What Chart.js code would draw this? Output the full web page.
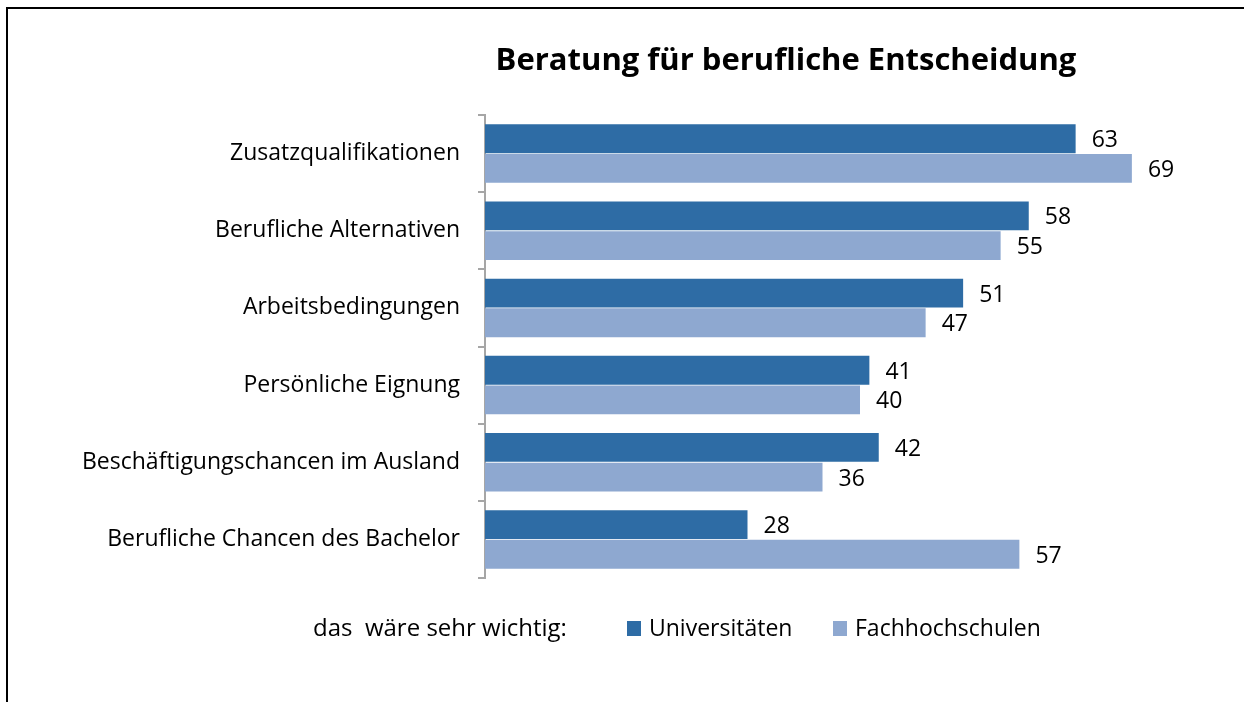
<!DOCTYPE html>
<html><head><meta charset="utf-8">
<script src="https://cdn.jsdelivr.net/npm/chart.js@4"></script>
<style>
html,body{margin:0;padding:0;background:#fff;}
#wrap{position:relative;width:1244px;height:702px;overflow:hidden;}
canvas{position:absolute;left:0;top:0;}
#frameTop{position:absolute;left:6px;top:7px;width:1238px;height:2px;background:#000;}
#frameLeft{position:absolute;left:6px;top:7px;width:2px;height:695px;background:#000;}
</style></head><body>
<div id="wrap"><canvas id="c" width="1244" height="702"></canvas><div id="frameTop"></div><div id="frameLeft"></div></div>
<script>
const categories = ['Zusatzqualifikationen','Berufliche Alternativen','Arbeitsbedingungen','Persönliche Eignung','Beschäftigungschancen im Ausland','Berufliche Chancen des Bachelor'];
const universitaeten = [63, 58, 51, 41, 42, 28];
const fachhochschulen = [69, 55, 47, 40, 36, 57];
const seriesNames = ['Universitäten', 'Fachhochschulen'];
const seriesColors = ['#2E6CA5', '#8EA8D0'];
const titleText = 'Beratung für berufliche Entscheidung';
const legendPrefix = 'das  wäre sehr wichtig:';

const FONT = "'Open Sans', 'Liberation Sans', sans-serif";

const extras = {
  id: 'extras',
  afterDraw(chart) {
    const ctx = chart.ctx;
    ctx.save();
    // value labels
    ctx.fillStyle = '#000';
    ctx.font = '23px ' + FONT;
    ctx.textAlign = 'left';
    ctx.textBaseline = 'middle';
    chart.data.datasets.forEach((ds, di) => {
      const meta = chart.getDatasetMeta(di);
      meta.data.forEach((bar, i) => {
        ctx.fillText(String(ds.data[i]), bar.x + 16, bar.y + 2);
      });
    });
    // title
    ctx.font = 'bold 31px ' + FONT;
    ctx.textAlign = 'center';
    ctx.fillText(titleText, 786, 61);
    // legend
    ctx.font = '24px ' + FONT;
    ctx.textAlign = 'left';
    ctx.fillText(legendPrefix, 313, 629);
    ctx.font = '23px ' + FONT;
    const boxX = [627, 833];
    chart.data.datasets.forEach((ds, di) => {
      ctx.fillStyle = ds.backgroundColor;
      ctx.fillRect(boxX[di], 621, 14, 15);
      ctx.fillStyle = '#000';
      ctx.fillText(ds.label, boxX[di] + 22, 629);
    });
    ctx.restore();
  }
};

new Chart(document.getElementById('c'), {
  type: 'bar',
  data: {
    labels: categories,
    datasets: [
      { label: seriesNames[0], data: universitaeten, backgroundColor: seriesColors[0] },
      { label: seriesNames[1], data: fachhochschulen, backgroundColor: seriesColors[1] }
    ]
  },
  options: {
    indexAxis: 'y',
    responsive: false,
    animation: false,
    devicePixelRatio: 1,
    categoryPercentage: 0.77,
    barPercentage: 0.97,
    layout: { padding: { left: 0, right: 9, top: 115, bottom: 124 } },
    plugins: { legend: { display: false }, title: { display: false }, tooltip: { enabled: false } },
    scales: {
      x: { display: false, min: 0, max: 80 },
      y: {
        afterFit(scale) { scale.width = 485; },
        grid: { display: true, drawOnChartArea: false, drawTicks: true, tickLength: 7, color: '#A6A6A6', lineWidth: 2, offset: true },
        border: { display: true, color: '#A6A6A6', width: 2 },
        ticks: { color: '#000', font: { family: FONT, size: 23 }, padding: 18 }
      }
    }
  },
  plugins: [extras]
});
</script>
</body></html>
